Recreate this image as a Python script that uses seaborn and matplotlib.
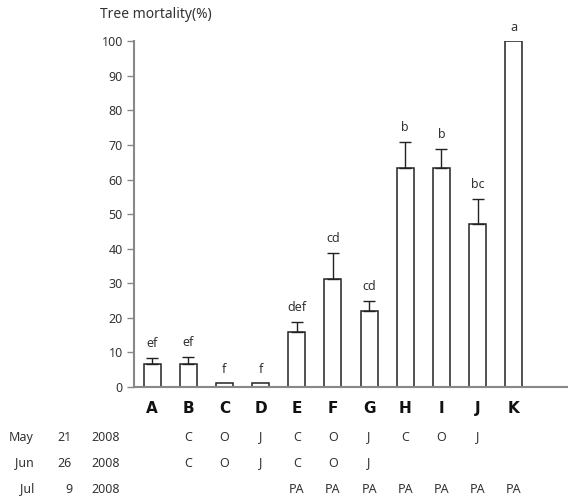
import numpy as np
import matplotlib
matplotlib.use("Agg")
import matplotlib.pyplot as plt
import matplotlib.transforms as mtransforms
import seaborn as sns

# data
groups = ['A', 'B', 'C', 'D', 'E', 'F', 'G', 'H', 'I', 'J', 'K']
mortality = [6.5, 6.5, 1.1, 1.1, 15.8, 31.2, 22.0, 63.3, 63.3, 47.2, 100.0]
err_upper = [1.9, 2.2, 0.0, 0.0, 3.1, 7.6, 2.9, 7.6, 5.6, 7.2, 0.0]
sig_letters = ['ef', 'ef', 'f', 'f', 'def', 'cd', 'cd', 'b', 'b', 'bc', 'a']

date_rows = [('May', '21', '2008'), ('Jun', '26', '2008'), ('Jul', '9', '2008')]
may_trt = ['', 'C', 'O', 'J', 'C', 'O', 'J', 'C', 'O', 'J', '']
jun_trt = ['', 'C', 'O', 'J', 'C', 'O', 'J', '', '', '', '']
jul_trt = ['', '', '', '', 'PA', 'PA', 'PA', 'PA', 'PA', 'PA', 'PA']

sns.set_theme(style="white")
plt.rcParams['font.family'] = ['Noto Sans', 'DejaVu Sans']
text_col = '#333333'

fig = plt.figure(figsize=(5.68, 4.98), dpi=100)
ax = fig.add_axes([0.236, 0.223, 0.764, 0.694])

x = np.arange(len(groups))
sns.barplot(x=groups, y=mortality, color='white', edgecolor='#222222',
            linewidth=1.1, width=0.47, ax=ax, saturation=1)

# one-sided error bars, only where there is an error
err = np.array(err_upper)
m = np.array(mortality)
has = err > 0
ax.errorbar(x[has], m[has], yerr=[np.zeros(has.sum()), err[has]], fmt='none',
            ecolor='#222222', elinewidth=1.0, capsize=4, capthick=1.0)

for xi, mv, e, lab in zip(x, mortality, err_upper, sig_letters):
    ax.text(xi, mv + e + 2.2, lab, ha='center', va='bottom', fontsize=9,
            color=text_col, clip_on=False)

ax.set_xlim(-0.5, 11.5)
ax.set_ylim(0, 100)
ax.set_yticks(np.arange(0, 101, 10))
ax.set_xticks(x, groups, fontweight='bold', fontsize=11, color='#111111',
              fontfamily='DejaVu Sans')
ax.tick_params(axis='y', direction='out', length=5, width=1, color='#888888',
               labelsize=9, labelcolor=text_col, pad=3, left=True)
ax.tick_params(axis='x', length=0, pad=10)
ax.set_xlabel('')
ax.set_ylabel('')
sns.despine(ax=ax)
for s in ['left', 'bottom']:
    ax.spines[s].set_color('#888888')
    ax.spines[s].set_linewidth(1.5)

fig.text(100 / 568, 1 - 15 / 498, 'Tree mortality(%)', ha='left', va='center',
         fontsize=10, color=text_col)

# treatment table below the axis
trans = mtransforms.blended_transform_factory(ax.transData, fig.transFigure)
row_y = [1 - 437 / 498, 1 - 463 / 498, 1 - 489 / 498]
for (mon, day, yr), yy, trt in zip(date_rows, row_y, [may_trt, jun_trt, jul_trt]):
    fig.text(34 / 568, yy, mon, ha='right', va='center', fontsize=9, color=text_col)
    fig.text(72 / 568, yy, day, ha='right', va='center', fontsize=9, color=text_col)
    fig.text(120 / 568, yy, yr, ha='right', va='center', fontsize=9, color=text_col)
    for xi, t in zip(x, trt):
        if t:
            ax.text(xi, yy, t, transform=trans, ha='center', va='center',
                    fontsize=9, color=text_col, clip_on=False)

fig.savefig('out.png', dpi=100)
